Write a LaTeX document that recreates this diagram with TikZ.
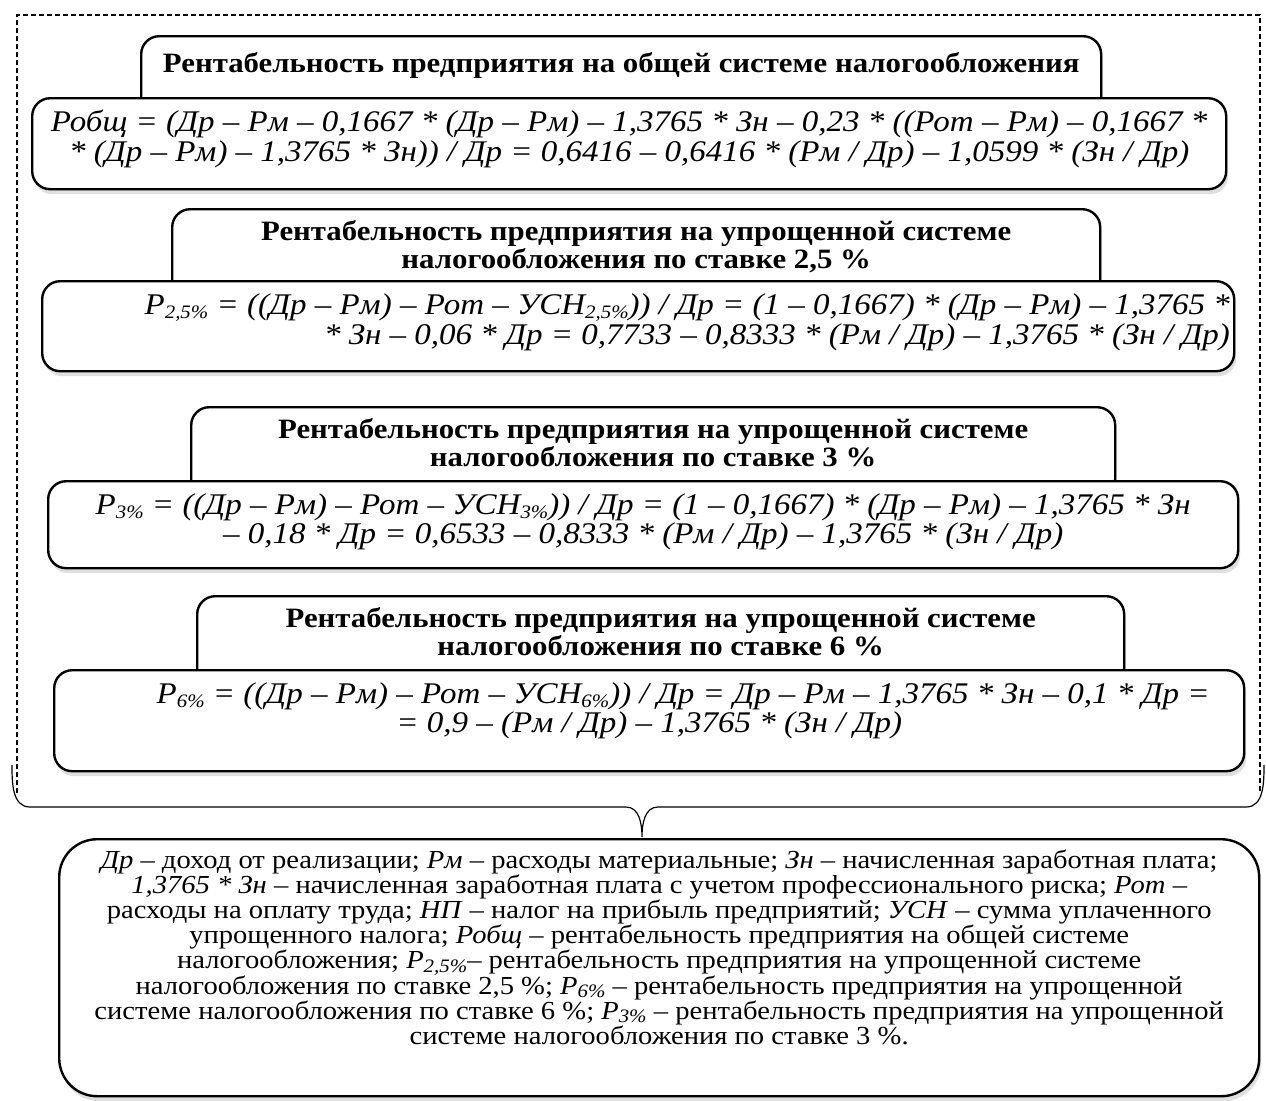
\documentclass[tikz,border=0pt]{standalone}
\usepackage{fontspec}
\setmainfont{Liberation Serif}[FakeStretch=1.1]
\usetikzlibrary{positioning, shadows}

\newcommand{\ttlfont}{\fontsize{14}{11.5}\selectfont\bfseries}
\newcommand{\frmfont}{\fontsize{15}{13.4}\selectfont\itshape}
\newcommand{\lgdfont}{\fontsize{13}{12.6}\selectfont}
\newcommand{\pidx}[1]{\raisebox{-0.3ex}{\fontsize{9.5}{9.5}\selectfont\itshape #1}}

\begin{document}
\begin{tikzpicture}[x=0.5pt, y=-0.5pt,
    box/.style={draw, line width=1.2pt, rounded corners=9pt, fill=white,
                anchor=north west, inner sep=0pt,
                drop shadow={shadow xshift=1pt, shadow yshift=-2.5pt, opacity=0.25}},
    ttl/.style={font=\ttlfont, align=center, inner sep=0pt},
    frm/.style={font=\frmfont, align=center, inner sep=0pt},
    brace/.style={line width=0.6pt}]
  \useasboundingbox (0,0) rectangle (1266,1100);
  % --- ramka shtrikhovaya ---
  \coordinate (fr1) at (17,793);
  \coordinate (fr2) at (1260,15);
  \draw[line width=0.6pt, dash pattern=on 2.5pt off 1.5pt] (fr1) |- (fr2) -- (fr2 |- fr1);

  % --- obshchaya sistema ---
  \node[box, minimum width=480pt, minimum height=45pt] (tit1) at (140,35) {};
  \node[ttl, below=8.5pt of tit1.north] (tit1x) {Рентабельность предприятия на общей системе налогообложения};
  \node[box, minimum width=597pt, minimum height=45.5pt] (frm1) at (31,97) {};
  \node[frm, below=6.5pt of frm1.north] (frm1x)
    {Робщ = (Др – Рм – 0,1667 * (Др – Рм) – 1,3765 * Зн – 0,23 * ((Рот – Рм) – 0,1667 *\\
     * (Др – Рм) – 1,3765 * Зн)) / Др = 0,6416 – 0,6416 * (Рм / Др) – 1,0599 * (Зн / Др)};

  % --- USN 2,5 % ---
  \node[box, minimum width=464pt, minimum height=45pt] (tit2) at (171,208) {};
  \node[ttl, below=6pt of tit2.north] (tit2x) {Рентабельность предприятия на упрощенной системе\\налогообложения по ставке 2,5 \%};
  \node[box, minimum width=596pt, minimum height=45pt] (frm2) at (41,280) {};
  \node[frm, align=right, anchor=north east, below left=6.5pt and 2.5pt of frm2.north east] (frm2x)
    {Р\pidx{2,5\%} = ((Др – Рм) – Рот – УСН\pidx{2,5\%})) / Др = (1 – 0,1667) * (Др – Рм) – 1,3765 *\\
     * Зн – 0,06 * Др = 0,7733 – 0,8333 * (Рм / Др) – 1,3765 * (Зн / Др)};

  % --- USN 3 % ---
  \node[box, minimum width=462pt, minimum height=45pt] (tit3) at (190,406) {};
  \node[ttl, below=6pt of tit3.north] (tit3x) {Рентабельность предприятия на упрощенной системе\\налогообложения по ставке 3 \%};
  \node[box, minimum width=595pt, minimum height=43.5pt] (frm3) at (47,480) {};
  \node[frm, below=6.5pt of frm3.north] (frm3x)
    {Р\pidx{3\%} = ((Др – Рм) – Рот – УСН\pidx{3\%})) / Др = (1 – 0,1667) * (Др – Рм) – 1,3765 * Зн\\
     – 0,18 * Др = 0,6533 – 0,8333 * (Рм / Др) – 1,3765 * (Зн / Др)};

  % --- USN 6 % ---
  \node[box, minimum width=463.5pt, minimum height=45pt] (tit4) at (196,595) {};
  \node[ttl, below=6pt of tit4.north] (tit4x) {Рентабельность предприятия на упрощенной системе\\налогообложения по ставке 6 \%};
  \node[box, minimum width=595pt, minimum height=50.5pt] (frm4) at (53,669) {};
  \node[frm, below=6.5pt of frm4.north] (frm4x)
    {\hspace*{34pt}Р\pidx{6\%} = ((Др – Рм) – Рот – УСН\pidx{6\%})) / Др = Др – Рм – 1,3765 * Зн – 0,1 * Др =\\
     = 0,9 – (Рм / Др) – 1,3765 * (Зн / Др)};

  % --- figurnaya skobka k legende ---
  \coordinate (bl) at (12,765);
  \coordinate (br) at (1264,765);
  \coordinate (tip) at (642,837);
  \draw[brace] (bl) to[out=-90,in=180] (30,807) -- (626,807)
        to[out=0,in=90] (tip) to[out=90,in=180] (658,807) -- (1246,807)
        to[out=0,in=-90] (br);

  % --- legenda ---
  \node[box, rounded corners=19pt, minimum width=600pt, minimum height=128.5pt] (lgd) at (58,838) {};
  \node[font=\lgdfont, align=center, inner sep=0pt, below=5.5pt of lgd.north] (lgdx)
    {\textit{Др} – доход от реализации; \textit{Рм} – расходы материальные; \textit{Зн} – начисленная заработная плата;\\
     \textit{1,3765 * Зн} – начисленная заработная плата с учетом профессионального риска; \textit{Рот} –\\
     расходы на оплату труда; \textit{НП} – налог на прибыль предприятий; \textit{УСН} – сумма уплаченного\\
     упрощенного налога; \textit{Робщ} – рентабельность предприятия на общей системе\\
     налогообложения; \textit{Р}\pidx{2,5\%}– рентабельность предприятия на упрощенной системе\\
     налогообложения по ставке 2,5 \%; \textit{Р}\pidx{6\%} – рентабельность предприятия на упрощенной\\
     системе налогообложения по ставке 6 \%; \textit{Р}\pidx{3\%} – рентабельность предприятия на упрощенной\\
     системе налогообложения по ставке 3 \%.};
\end{tikzpicture}
\end{document}
